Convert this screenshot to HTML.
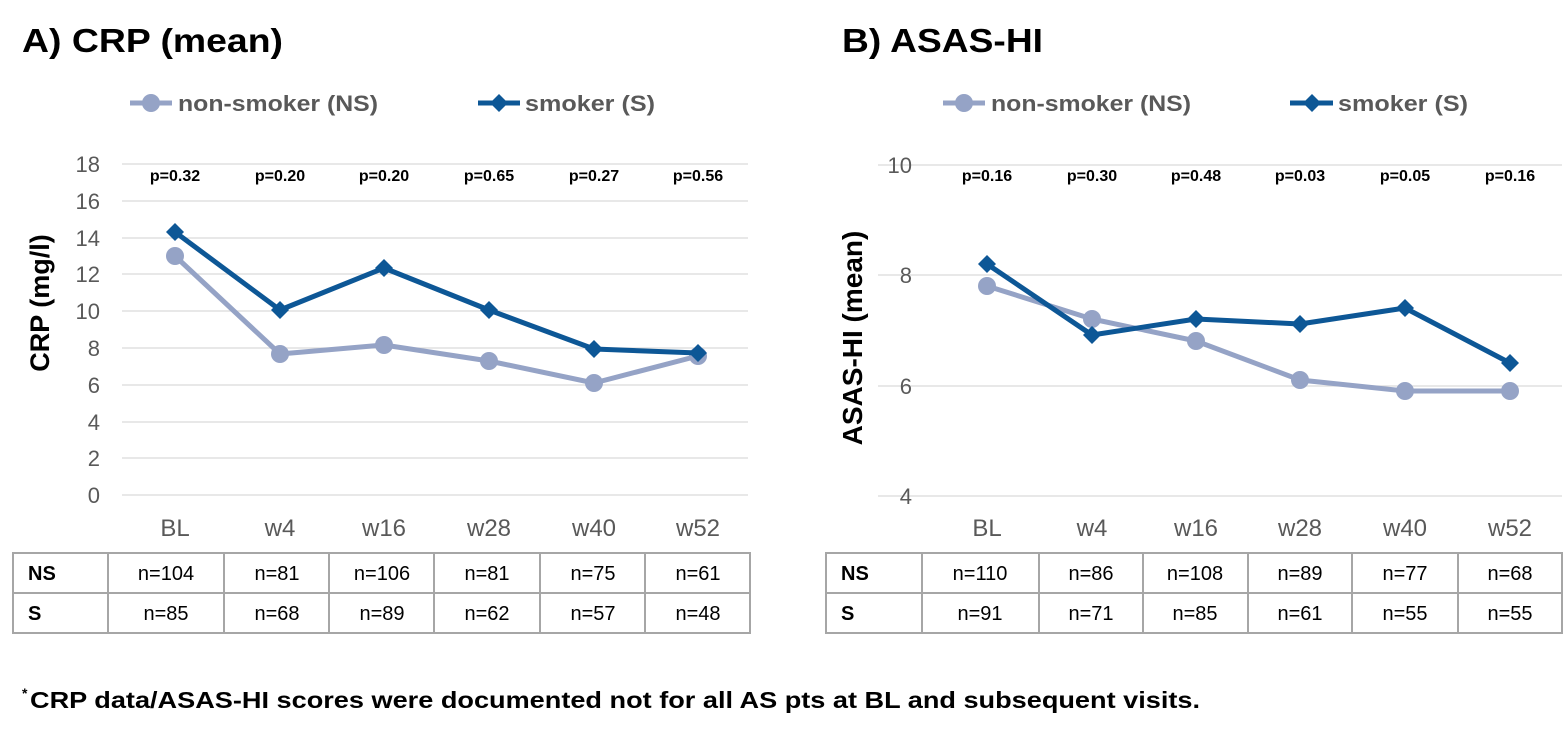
<!DOCTYPE html>
<html><head><meta charset="utf-8"><style>
body{margin:0;background:#fff;}
svg{display:block;font-family:"Liberation Sans",Arial,sans-serif;}
</style></head><body>
<svg width="1566" height="733" viewBox="0 0 1566 733" xmlns="http://www.w3.org/2000/svg">
<defs>
<g id="dia"><polygon points="0,-9 9,0 0,9 -9,0" fill="#0d5796"/></g>
</defs>
<!-- Titles -->
<text x="22" y="52" font-size="33" font-weight="bold" fill="#000" textLength="261" lengthAdjust="spacingAndGlyphs">A) CRP (mean)</text>
<text x="842" y="52" font-size="33" font-weight="bold" fill="#000" textLength="201" lengthAdjust="spacingAndGlyphs">B) ASAS-HI</text>

<!-- Legend A -->
<line x1="130" y1="103" x2="172" y2="103" stroke="#95a3c6" stroke-width="5"/>
<circle cx="151" cy="103" r="9" fill="#95a3c6"/>
<text x="178" y="111" font-size="22" font-weight="bold" fill="#595959" textLength="200" lengthAdjust="spacingAndGlyphs">non-smoker (NS)</text>
<line x1="478" y1="103" x2="520" y2="103" stroke="#0d5796" stroke-width="5"/>
<use href="#dia" x="499" y="103"/>
<text x="525" y="111" font-size="22" font-weight="bold" fill="#595959" textLength="130" lengthAdjust="spacingAndGlyphs">smoker (S)</text>
<!-- Legend B -->
<line x1="943" y1="103" x2="985" y2="103" stroke="#95a3c6" stroke-width="5"/>
<circle cx="964" cy="103" r="9" fill="#95a3c6"/>
<text x="991" y="111" font-size="22" font-weight="bold" fill="#595959" textLength="200" lengthAdjust="spacingAndGlyphs">non-smoker (NS)</text>
<line x1="1290" y1="103" x2="1333" y2="103" stroke="#0d5796" stroke-width="5"/>
<use href="#dia" x="1312" y="103"/>
<text x="1338" y="111" font-size="22" font-weight="bold" fill="#595959" textLength="130" lengthAdjust="spacingAndGlyphs">smoker (S)</text>

<!-- Chart A grid -->
<g stroke="#d9d9d9" stroke-width="1.3">
<line x1="122" x2="748" y1="164" y2="164"/><line x1="122" x2="748" y1="201" y2="201"/>
<line x1="122" x2="748" y1="238" y2="238"/><line x1="122" x2="748" y1="274" y2="274"/>
<line x1="122" x2="748" y1="311" y2="311"/><line x1="122" x2="748" y1="348" y2="348"/>
<line x1="122" x2="748" y1="385" y2="385"/><line x1="122" x2="748" y1="422" y2="422"/>
<line x1="122" x2="748" y1="458" y2="458"/><line x1="122" x2="748" y1="495" y2="495"/>
</g>
<g font-size="22" fill="#595959" text-anchor="end">
<text x="100" y="172">18</text><text x="100" y="209">16</text><text x="100" y="246">14</text>
<text x="100" y="282">12</text><text x="100" y="319">10</text><text x="100" y="356">8</text>
<text x="100" y="393">6</text><text x="100" y="430">4</text><text x="100" y="466">2</text>
<text x="100" y="503">0</text>
</g>
<text transform="translate(49,303) rotate(-90)" font-size="27" font-weight="bold" text-anchor="middle">CRP (mg/l)</text>
<g font-size="16" font-weight="bold" text-anchor="middle">
<text x="175" y="181">p=0.32</text><text x="280" y="181">p=0.20</text><text x="384" y="181">p=0.20</text>
<text x="489" y="181">p=0.65</text><text x="594" y="181">p=0.27</text><text x="698" y="181">p=0.56</text>
</g>
<g font-size="24" fill="#595959" text-anchor="middle">
<text x="175" y="536">BL</text><text x="280" y="536">w4</text><text x="384" y="536">w16</text>
<text x="489" y="536">w28</text><text x="594" y="536">w40</text><text x="698" y="536">w52</text>
</g>
<polyline points="175,256 280,354 384,345 489,361 594,383 698,356" fill="none" stroke="#95a3c6" stroke-width="5" stroke-linejoin="round"/>
<g fill="#95a3c6"><circle cx="175" cy="256" r="9"/><circle cx="280" cy="354" r="9"/><circle cx="384" cy="345" r="9"/><circle cx="489" cy="361" r="9"/><circle cx="594" cy="383" r="9"/><circle cx="698" cy="356" r="9"/></g>
<polyline points="175,232 280,310 384,268 489,310 594,349 698,353" fill="none" stroke="#0d5796" stroke-width="5" stroke-linejoin="round"/>
<use href="#dia" x="175" y="232"/><use href="#dia" x="280" y="310"/><use href="#dia" x="384" y="268"/><use href="#dia" x="489" y="310"/><use href="#dia" x="594" y="349"/><use href="#dia" x="698" y="353"/>

<!-- Table A -->
<g fill="none" stroke="#a6a6a6" stroke-width="2">
<rect x="13" y="553" width="737" height="80"/>
<line x1="13" x2="750" y1="593" y2="593"/>
<line x1="108" x2="108" y1="553" y2="633"/><line x1="224" x2="224" y1="553" y2="633"/>
<line x1="329" x2="329" y1="553" y2="633"/><line x1="434" x2="434" y1="553" y2="633"/>
<line x1="540" x2="540" y1="553" y2="633"/><line x1="645" x2="645" y1="553" y2="633"/>
</g>
<g font-size="20">
<text x="28" y="580" font-weight="bold">NS</text><text x="28" y="620" font-weight="bold">S</text>
<g text-anchor="middle">
<text x="166" y="580">n=104</text><text x="277" y="580">n=81</text><text x="382" y="580">n=106</text>
<text x="487" y="580">n=81</text><text x="593" y="580">n=75</text><text x="698" y="580">n=61</text>
<text x="166" y="620">n=85</text><text x="277" y="620">n=68</text><text x="382" y="620">n=89</text>
<text x="487" y="620">n=62</text><text x="593" y="620">n=57</text><text x="698" y="620">n=48</text>
</g></g>

<!-- Chart B grid -->
<g stroke="#d9d9d9" stroke-width="1.3">
<line x1="878" x2="1562" y1="165" y2="165"/><line x1="878" x2="1562" y1="275" y2="275"/>
<line x1="878" x2="1562" y1="386" y2="386"/><line x1="878" x2="1562" y1="496" y2="496"/>
</g>
<g font-size="22" fill="#595959" text-anchor="end">
<text x="912" y="173">10</text><text x="912" y="283">8</text><text x="912" y="394">6</text><text x="912" y="504">4</text>
</g>
<text transform="translate(862,338) rotate(-90)" font-size="28" font-weight="bold" text-anchor="middle">ASAS-HI (mean)</text>
<g font-size="16" font-weight="bold" text-anchor="middle">
<text x="987" y="181">p=0.16</text><text x="1092" y="181">p=0.30</text><text x="1196" y="181">p=0.48</text>
<text x="1300" y="181">p=0.03</text><text x="1405" y="181">p=0.05</text><text x="1510" y="181">p=0.16</text>
</g>
<g font-size="24" fill="#595959" text-anchor="middle">
<text x="987" y="536">BL</text><text x="1092" y="536">w4</text><text x="1196" y="536">w16</text>
<text x="1300" y="536">w28</text><text x="1405" y="536">w40</text><text x="1510" y="536">w52</text>
</g>
<polyline points="987,286 1092,319 1196,341 1300,380 1405,391 1510,391" fill="none" stroke="#95a3c6" stroke-width="5" stroke-linejoin="round"/>
<g fill="#95a3c6"><circle cx="987" cy="286" r="9"/><circle cx="1092" cy="319" r="9"/><circle cx="1196" cy="341" r="9"/><circle cx="1300" cy="380" r="9"/><circle cx="1405" cy="391" r="9"/><circle cx="1510" cy="391" r="9"/></g>
<polyline points="987,264 1092,335 1196,319 1300,324 1405,308 1510,363" fill="none" stroke="#0d5796" stroke-width="5" stroke-linejoin="round"/>
<use href="#dia" x="987" y="264"/><use href="#dia" x="1092" y="335"/><use href="#dia" x="1196" y="319"/><use href="#dia" x="1300" y="324"/><use href="#dia" x="1405" y="308"/><use href="#dia" x="1510" y="363"/>

<!-- Table B -->
<g fill="none" stroke="#a6a6a6" stroke-width="2">
<rect x="826" y="553" width="736" height="80"/>
<line x1="826" x2="1562" y1="593" y2="593"/>
<line x1="922" x2="922" y1="553" y2="633"/><line x1="1039" x2="1039" y1="553" y2="633"/>
<line x1="1143" x2="1143" y1="553" y2="633"/><line x1="1248" x2="1248" y1="553" y2="633"/>
<line x1="1352" x2="1352" y1="553" y2="633"/><line x1="1458" x2="1458" y1="553" y2="633"/>
</g>
<g font-size="20">
<text x="841" y="580" font-weight="bold">NS</text><text x="841" y="620" font-weight="bold">S</text>
<g text-anchor="middle">
<text x="980" y="580">n=110</text><text x="1091" y="580">n=86</text><text x="1195" y="580">n=108</text>
<text x="1300" y="580">n=89</text><text x="1405" y="580">n=77</text><text x="1510" y="580">n=68</text>
<text x="980" y="620">n=91</text><text x="1091" y="620">n=71</text><text x="1195" y="620">n=85</text>
<text x="1300" y="620">n=61</text><text x="1405" y="620">n=55</text><text x="1510" y="620">n=55</text>
</g></g>

<!-- Footnote -->
<text x="22" y="698" font-size="14" font-weight="bold">*</text>
<text x="30" y="708" font-size="23" font-weight="bold" textLength="1170" lengthAdjust="spacingAndGlyphs">CRP data/ASAS-HI scores were documented not for all AS pts at BL and subsequent visits.</text>
</svg>
</body></html>
